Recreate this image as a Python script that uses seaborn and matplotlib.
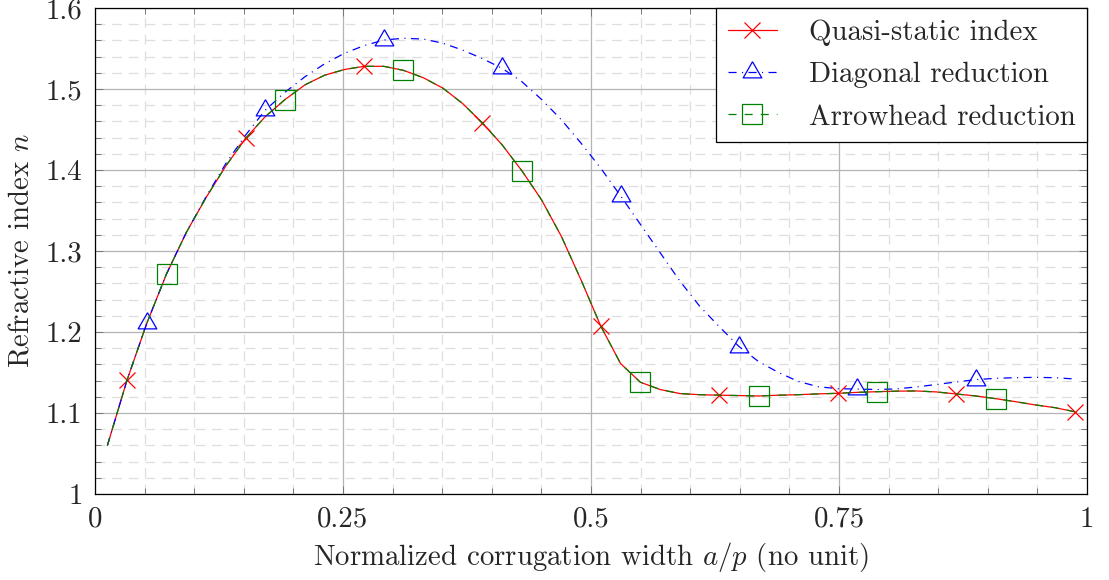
import numpy as np
import pandas as pd
import matplotlib
matplotlib.use("Agg")
import matplotlib.pyplot as plt
from matplotlib.ticker import MultipleLocator, FuncFormatter
import seaborn as sns

# Sample grid of the normalized corrugation width a/p
width = np.linspace(0.0125, 0.9875, 50)

quasi_static = [
    1.060, 1.141, 1.211, 1.272, 1.323, 1.366, 1.405, 1.439, 1.466, 1.487,
    1.505, 1.517, 1.524, 1.528, 1.528, 1.523, 1.514, 1.501, 1.482, 1.458,
    1.431, 1.399, 1.363, 1.318, 1.264, 1.207, 1.161, 1.138, 1.129, 1.124,
    1.1226, 1.122, 1.1215, 1.121, 1.122, 1.1226, 1.1236, 1.1243, 1.1255, 1.1263,
    1.127, 1.1272, 1.126, 1.1235, 1.121, 1.1177, 1.114, 1.110, 1.1066, 1.1016,
]

diagonal = [
    1.060, 1.141, 1.211, 1.272, 1.323, 1.367, 1.408, 1.443, 1.474, 1.496,
    1.515, 1.531, 1.544, 1.5535, 1.5605, 1.5626, 1.5617, 1.5565, 1.548, 1.5375,
    1.5255, 1.509, 1.487, 1.462, 1.433, 1.402, 1.368, 1.333, 1.298, 1.263,
    1.232, 1.2066, 1.182, 1.1633, 1.150, 1.139, 1.1325, 1.130, 1.1296, 1.129,
    1.1298, 1.1322, 1.1352, 1.1383, 1.1412, 1.1428, 1.1436, 1.144, 1.1436, 1.142,
]

arrowhead = [
    1.060, 1.141, 1.211, 1.272, 1.323, 1.366, 1.405, 1.439, 1.466, 1.487,
    1.505, 1.517, 1.524, 1.528, 1.528, 1.523, 1.514, 1.501, 1.482, 1.458,
    1.431, 1.399, 1.363, 1.318, 1.264, 1.207, 1.161, 1.138, 1.129, 1.124,
    1.1226, 1.122, 1.1215, 1.121, 1.122, 1.1226, 1.1236, 1.1243, 1.1255, 1.1263,
    1.127, 1.1272, 1.126, 1.1235, 1.121, 1.1177, 1.114, 1.110, 1.1066, 1.1016,
]

series_labels = ["Quasi-static index", "Diagonal reduction", "Arrowhead reduction"]

sns.set_style("ticks")
plt.rcParams.update({
    "font.family": ["cmr10"],
    "mathtext.fontset": "cm",
    "axes.formatter.use_mathtext": True,
    "axes.unicode_minus": False,
    "lines.scale_dashes": False,
})

FS = 20.8

df = pd.DataFrame({
    "width": np.tile(width, 3),
    "index": np.concatenate([quasi_static, diagonal, arrowhead]),
    "series": np.repeat(series_labels, len(width)),
})

fig = plt.figure(figsize=(11.09, 5.80), dpi=100)
ax = fig.add_axes([95 / 1109, 1 - 494 / 580, 992 / 1109, 486 / 580])

# equilateral triangle centred on its circumcentre
tri = [(0, 1), (-0.866, -0.5), (0.866, -0.5), (0, 1)]

styles = {
    "Quasi-static index": dict(color="red", linestyle="-", marker="x",
                               markersize=11.5, markevery=(1, 6)),
    "Diagonal reduction": dict(color="blue", linestyle=(0, (5.8, 3.9, 0.8, 3.9)),
                               marker=tri, markersize=15.5, markevery=(2, 6)),
    "Arrowhead reduction": dict(color="green", linestyle=(0, (5.8, 5.8)),
                                marker="s", markersize=15.0, markevery=(3, 6)),
}

for name in series_labels:
    st = styles[name]
    sub = df[df["series"] == name]
    sns.lineplot(data=sub, x="width", y="index", ax=ax, errorbar=None,
                 label=name, linewidth=0.9, color=st["color"],
                 linestyle=st["linestyle"], marker=st["marker"],
                 markersize=st["markersize"], markevery=st["markevery"],
                 markerfacecolor="none", markeredgecolor=st["color"],
                 markeredgewidth=0.9)

ax.set_xlim(0, 1)
ax.set_ylim(1, 1.6)
ax.xaxis.set_major_locator(MultipleLocator(0.25))
ax.xaxis.set_minor_locator(MultipleLocator(0.05))
ax.yaxis.set_major_locator(MultipleLocator(0.1))
ax.yaxis.set_minor_locator(MultipleLocator(0.02))
fmt = FuncFormatter(lambda v, p: f"{v:g}")
ax.xaxis.set_major_formatter(fmt)
ax.yaxis.set_major_formatter(fmt)

ax.set_axisbelow(True)
ax.grid(which="major", color="#b4b4b4", linewidth=0.9, linestyle="-")
ax.grid(which="minor", color="#dedede", linewidth=0.9, linestyle=(0, (7, 5)))

ax.tick_params(which="both", direction="in", top=True, right=True,
               color="#777777", width=0.7, labelsize=FS, pad=9)
ax.tick_params(which="major", length=6)
ax.tick_params(which="minor", length=4.5)

for sp in ax.spines.values():
    sp.set_color("black")
    sp.set_linewidth(0.9)

ax.set_xlabel("Normalized corrugation width $a/p$ (no unit)", fontsize=FS, labelpad=5)
ax.set_ylabel("Refractive index $n$", fontsize=FS, labelpad=8)

leg = ax.legend(loc="upper right", borderaxespad=0, frameon=True, fancybox=False,
                edgecolor="black", framealpha=1, fontsize=FS, handlelength=1.7,
                handletextpad=1.1, labelspacing=0.55, borderpad=0.4)
leg.get_frame().set_linewidth(0.9)

fig.savefig("out.png", dpi=100)
